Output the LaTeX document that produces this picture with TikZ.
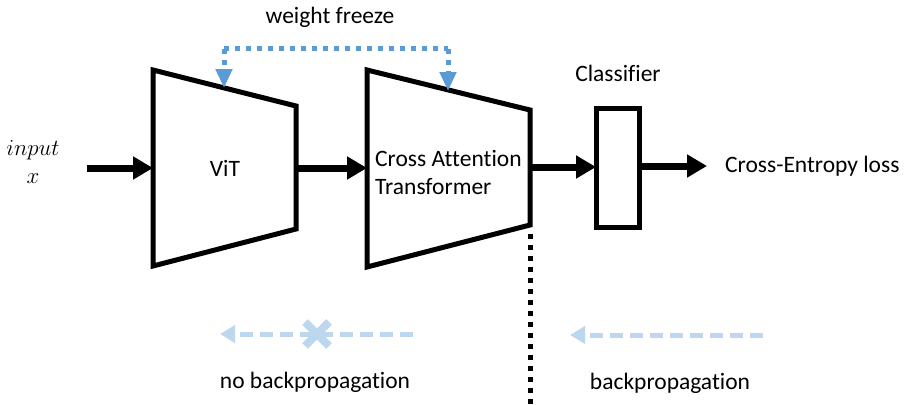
\documentclass[tikz,border=0pt]{standalone}
\usepackage{fontspec}
\setmainfont[Ligatures=NoCommon]{Carlito}
\usetikzlibrary{arrows.meta}
\definecolor{fblue}{HTML}{5B9BD5}
\definecolor{lblue}{HTML}{BDD7EE}
\begin{document}
\begin{tikzpicture}[x=1pt,y=-1pt,
  blk/.style={line width=5pt,line join=miter},
  flow/.style={line width=7pt,-{Triangle[length=20pt,width=22pt]}},
  freeze/.style={fblue,line width=5pt,dash pattern=on 5pt off 6pt,-{Triangle[length=19pt,width=16pt]}},
  bp/.style={lblue,line width=5pt,dash pattern=on 13pt off 7pt,-{Triangle[length=15pt,width=17pt]}},
  lbl/.style={font=\fontsize{23.5}{28}\selectfont,inner sep=0pt}]
\useasboundingbox (0,0) rectangle (904,404);
% ViT trapezoid
\coordinate (v1) at (153,70); \coordinate (v2) at (296,106);
\coordinate (v3) at (296,229); \coordinate (v4) at (153,266);
\draw[blk] (v1) -- (v2) -- (v3) -- (v4) -- cycle;
% Cross attention trapezoid
\coordinate (c1) at (367,70); \coordinate (c2) at (530,110);
\coordinate (c3) at (530,225); \coordinate (c4) at (367,267);
\draw[blk] (c1) -- (c2) -- (c3) -- (c4) -- cycle;
% classifier
\node[draw,blk,minimum width=43pt,minimum height=119pt,inner sep=0pt] (cls) at (618,168) {};
\node[lbl] (clst) at (618,73) {Classifier};
% texts
\node[lbl] (vit) at (225,168) {ViT};
\node[lbl,align=left,anchor=west] (cat) at (375,172) {Cross Attention\\Transformer};
\node[lbl,anchor=west] (loss) at (725,166) {Cross-Entropy loss};
\node[lbl,align=center] (inp) at (33,162) {$\scalebox{0.92}{$input$}$\\[0pt]$\scalebox{0.92}{$x$}$};
\node[lbl] (wf) at (330,17) {weight freeze};
% flow arrows
\coordinate (i0) at (87,168); \coordinate (i1) at (153,168);
\draw[flow] (i0) -- (i1);
\coordinate (a0) at (296,168); \coordinate (a1) at (367,168);
\draw[flow] (a0) -- (a1);
\coordinate (b0) at (530,167); \coordinate (b1) at (596,167);
\draw[flow] (b0) -- (b1);
\coordinate (d0) at (640,166); \coordinate (d1) at (707,166);
\draw[flow] (d0) -- (d1);
% weight freeze
\coordinate (f1) at (224,88); \coordinate (f2) at (448,91);
\coordinate (t1) at (224,49); \coordinate (t2) at (448,49);
\draw[freeze] (t1) -- (f1);
\draw[freeze] (t2) -- (f2);
\draw[fblue,line width=5pt,dash pattern=on 5pt off 6pt] (t1) -- (t2);
% split line
\coordinate (s0) at (530,234); \coordinate (s1) at (530,404);
\draw[line width=5pt,dash pattern=on 5pt off 6pt] (s0) -- (s1);
% backprop arrows
\coordinate (n0) at (413,334); \coordinate (n1) at (220,334);
\draw[bp] (n0) -- (n1);
\draw[lblue,line width=8pt] (305,322) -- (329,346) (305,346) -- (329,322);
\coordinate (p0) at (763,335); \coordinate (p1) at (570,335);
\draw[bp] (p0) -- (p1);
\node[lbl] (nbp) at (315,382) {no backpropagation};
\node[lbl] (bpt) at (670,383) {backpropagation};
\end{tikzpicture}
\end{document}
